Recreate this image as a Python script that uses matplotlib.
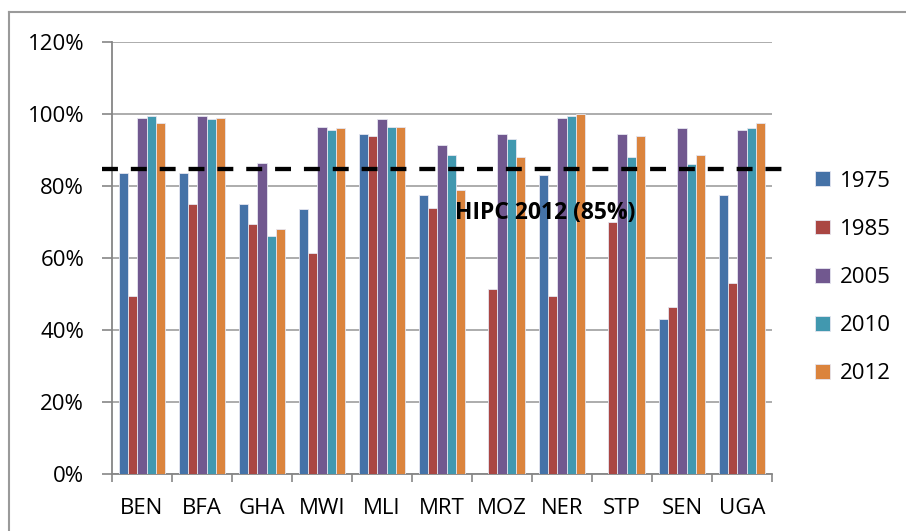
"""Completion rates by country, HIPC benchmark shown as dashed line."""

import matplotlib.pyplot as plt
import numpy as np
from matplotlib.lines import Line2D
from matplotlib.ticker import FuncFormatter

countries = ["BEN", "BFA", "GHA", "MWI", "MLI", "MRT", "MOZ", "NER", "STP", "SEN", "UGA"]
years = ["1975", "1985", "2005", "2010", "2012"]

# None = no data for that year
rate_1975 = [83.5, 83.5, 75.0, 73.5, 94.5, 77.5, None, 83.0, None, 43.0, 77.5]
rate_1985 = [49.5, 75.0, 69.5, 61.5, 94.0, 74.0, 51.5, 49.5, 70.0, 46.5, 53.0]
rate_2005 = [99.0, 99.5, 86.5, 96.5, 98.5, 91.5, 94.5, 99.0, 94.5, 96.0, 95.5]
rate_2010 = [99.5, 98.5, 66.0, 95.5, 96.5, 88.5, 93.0, 99.5, 88.0, 86.0, 96.0]
rate_2012 = [97.5, 99.0, 68.0, 96.0, 96.5, 79.0, 88.0, 100.0, 94.0, 88.5, 97.5]
hipc_2012 = 84.7

series = [rate_1975, rate_1985, rate_2005, rate_2010, rate_2012]
colors = ["#4572A7", "#AA4643", "#71588F", "#4198AF", "#DB843D"]

plt.rcParams["font.family"] = ["Open Sans", "DejaVu Sans"]

fig = plt.figure(figsize=(9.06, 5.31), dpi=100)
ax = fig.add_axes([112 / 906, 57 / 531, 660 / 906, 432 / 531])

x = np.arange(len(countries))
width = 0.155
for i, (vals, color, year) in enumerate(zip(series, colors, years)):
    offs = (i - 2) * width
    xs = [xi + offs for xi, v in zip(x, vals) if v is not None]
    hs = [v for v in vals if v is not None]
    ax.bar(xs, hs, width, color=color, edgecolor="#e6e6f0", linewidth=0.6,
           label=year, zorder=3)

ax.axhline(hipc_2012, color="black", linestyle=(0, (3.7, 3.0)), linewidth=3.1,
           zorder=4, clip_on=False, xmin=-0.015, xmax=1.029)
ax.text(6.72, 72.5, "HIPC 2012 (85%)", ha="center", va="center",
        fontsize=16.5, fontweight="bold", zorder=5)

ax.set_xlim(-0.5, len(countries) - 0.5)
ax.set_ylim(0, 120)
ax.set_yticks(np.arange(0, 121, 20))
ax.yaxis.set_major_formatter(FuncFormatter(lambda v, _: f"{v:.0f}%"))
ax.set_xticks(x)
ax.set_xticklabels(countries)
ax.set_xticks(np.arange(-0.5, len(countries), 1), minor=True)
ax.tick_params(axis="x", which="major", length=0, labelsize=16, pad=17)
ax.tick_params(axis="x", which="minor", length=6, color="#868686", width=1.2)
ax.tick_params(axis="y", length=7, color="#868686", width=1.2, labelsize=16, pad=13)
ax.grid(axis="y", color="#a6a6a6", linewidth=1.3, zorder=0)

for side in ["top", "right"]:
    ax.spines[side].set_visible(False)
for side in ["left", "bottom"]:
    ax.spines[side].set_color("#868686")
    ax.spines[side].set_linewidth(1.3)

ax.legend(loc="center left", bbox_to_anchor=(1.035, 0.455), frameon=False,
          fontsize=16, handlelength=0.65, handleheight=0.65, labelspacing=1.22,
          handletextpad=0.45)

# chart-area frame: only top and left edges are visible in the crop
fig.add_artist(Line2D([9 / 906, 1.0], [1 - 12 / 531, 1 - 12 / 531],
                      transform=fig.transFigure, color="#9a9a9a", linewidth=1.5))
fig.add_artist(Line2D([9 / 906, 9 / 906], [0.0, 1 - 12 / 531],
                      transform=fig.transFigure, color="#9a9a9a", linewidth=1.5))

fig.savefig("out.png", dpi=100)
